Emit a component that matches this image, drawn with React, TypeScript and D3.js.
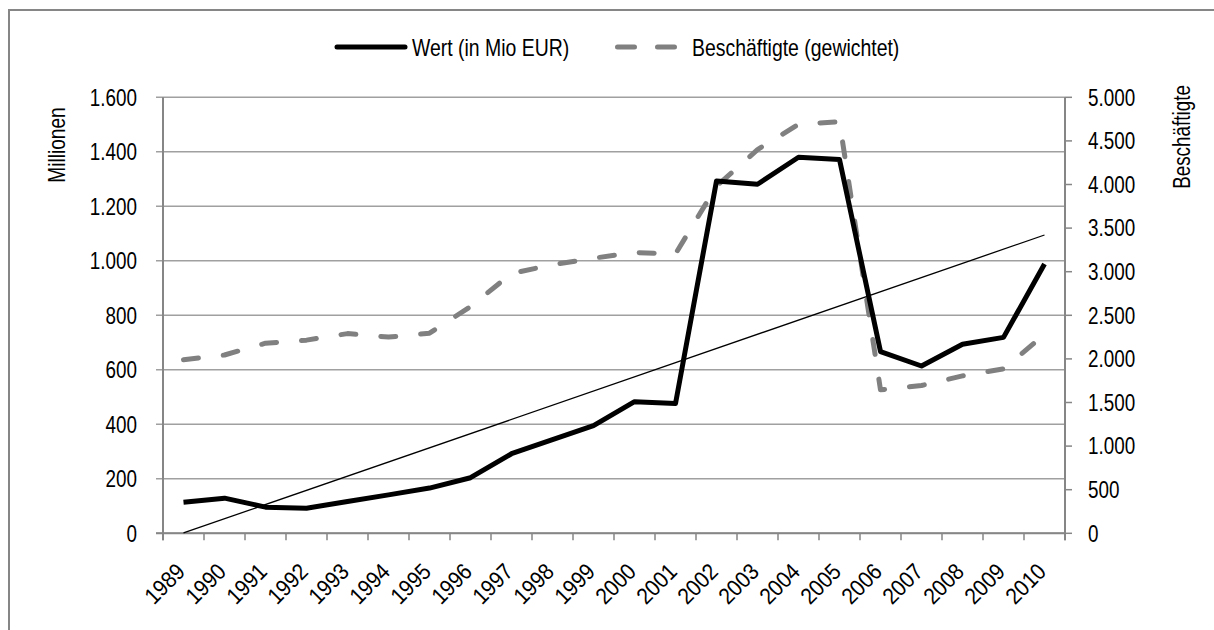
import React from "react";
import * as d3 from "d3";

const years = ["1989","1990","1991","1992","1993","1994","1995","1996","1997","1998","1999","2000","2001","2002","2003","2004","2005","2006","2007","2008","2009","2010"];
const wert = [114,129,96,92,117,141,166,204,292,344,395,483,476,1293,1281,1380,1372,667,614,694,719,988];
const besch = [1990,2045,2180,2215,2290,2250,2295,2600,2980,3080,3155,3220,3205,3980,4400,4690,4720,1645,1695,1805,1885,2280];
const leftTicks = [0,200,400,600,800,1000,1200,1400,1600];
const rightTicks = [0,500,1000,1500,2000,2500,3000,3500,4000,4500,5000];
const seriesNames = ["Wert (in Mio EUR)", "Beschäftigte (gewichtet)"];
const axisTitles = ["Millionen", "Beschäftigte"];

const fmt = (v: number) => d3.format(",")(v).replace(/,/g, ".");

function T(props: { x: number; y: number; rot?: number; anchor?: string; dy?: string; fs?: number; sx?: number; children: React.ReactNode }) {
  const { x, y, rot = 0, anchor = "start", dy, fs = 23, sx = 0.82 } = props;
  return (
    <g transform={`translate(${x},${y}) rotate(${rot}) scale(${sx},1)`}>
      <text x={0} y={0} dy={dy} textAnchor={anchor} fontSize={fs} fill="#000">{props.children}</text>
    </g>
  );
}

export default function App() {
  const W = 1214, H = 630;
  const left = 163, right = 1065, top = 97.3, bottom = 533.3;
  const font = "'Liberation Sans', Arial, sans-serif";

  const x = d3.scaleBand<string>().domain(years).range([left, right]).padding(0);
  const cx = (i: number) => (x(years[i]) as number) + x.bandwidth() / 2;
  const yL = d3.scaleLinear().domain([0, 1600]).range([bottom, top]);
  const yR = d3.scaleLinear().domain([0, 5000]).range([bottom, top]);

  const lineL = d3.line<number>().x((_, i) => cx(i)).y((d) => yL(d));
  const lineR = d3.line<number>().x((_, i) => cx(i)).y((d) => yR(d));

  // linear trend of Wert
  const xs = wert.map((_, i) => i);
  const mx = d3.mean(xs) as number;
  const my = d3.mean(wert) as number;
  const slope = d3.sum(xs.map((xi, i) => (xi - mx) * (wert[i] - my))) / d3.sum(xs.map((xi) => (xi - mx) ** 2));
  const icpt = my - slope * mx;
  const n = wert.length - 1;
  const trend = [icpt, icpt + slope * n];

  const gridColor = "#a0a0a0";
  const axisColor = "#868686";
  const dashColor = "#808080";

  return (
    <svg width={W} height={H} style={{ position: "absolute", left: 0, top: 0, background: "#fff" }} fontFamily={font}>
      <rect x={9} y={10} width={1230} height={650} fill="#fff" stroke={axisColor} strokeWidth={2} />

      {leftTicks.map((t) => (
        <line key={"g" + t} x1={left - 7} x2={right} y1={yL(t)} y2={yL(t)} stroke={gridColor} strokeWidth={1.5} />
      ))}
      {rightTicks.map((t) => (
        <line key={"r" + t} x1={right} x2={right + 7} y1={yR(t)} y2={yR(t)} stroke={axisColor} strokeWidth={1.5} />
      ))}
      {d3.range(years.length + 1).map((i) => {
        const xx = left + i * x.bandwidth();
        return <line key={"xt" + i} x1={xx} x2={xx} y1={bottom} y2={bottom + 7} stroke={axisColor} strokeWidth={1.5} />;
      })}
      <line x1={left} x2={left} y1={top} y2={bottom + 7} stroke={axisColor} strokeWidth={2} />
      <line x1={right} x2={right} y1={top} y2={bottom + 7} stroke={axisColor} strokeWidth={2} />
      <line x1={left - 7} x2={right} y1={bottom} y2={bottom} stroke={axisColor} strokeWidth={2} />

      {leftTicks.map((t) => (
        <T key={"ll" + t} x={137} y={yL(t)} dy="0.36em" anchor="end">{fmt(t)}</T>
      ))}
      {rightTicks.map((t) => (
        <T key={"rl" + t} x={1088} y={yR(t)} dy="0.36em">{fmt(t)}</T>
      ))}
      {years.map((yv, i) => (
        <T key={"xl" + yv} x={cx(i) + 3} y={573} rot={-45} anchor="end" fs={23} sx={0.9}>{yv}</T>
      ))}

      <T x={65} y={145} rot={-90} anchor="middle" sx={0.83}>{axisTitles[0]}</T>
      <T x={1190} y={137} rot={-90} anchor="middle" sx={0.82}>{axisTitles[1]}</T>

      <path d={lineR(besch) as string} fill="none" stroke={dashColor} strokeWidth={5} strokeDasharray="15 25" strokeLinecap="round" strokeLinejoin="round" />
      <path d={lineL(wert) as string} fill="none" stroke="#000" strokeWidth={5} strokeLinejoin="round" />
      <line x1={cx(0)} y1={yL(trend[0])} x2={cx(n)} y2={yL(trend[1])} stroke="#000" strokeWidth={1.3} />

      <line x1={337} x2={405} y1={47} y2={47} stroke="#000" strokeWidth={5} strokeLinecap="round" />
      <T x={412} y={56} sx={0.845}>{seriesNames[0]}</T>
      <line x1={617.5} x2={674.5} y1={47} y2={47} stroke={dashColor} strokeWidth={5} strokeDasharray="17 23" strokeLinecap="round" />
      <T x={692} y={56} sx={0.845}>{seriesNames[1]}</T>
    </svg>
  );
}
